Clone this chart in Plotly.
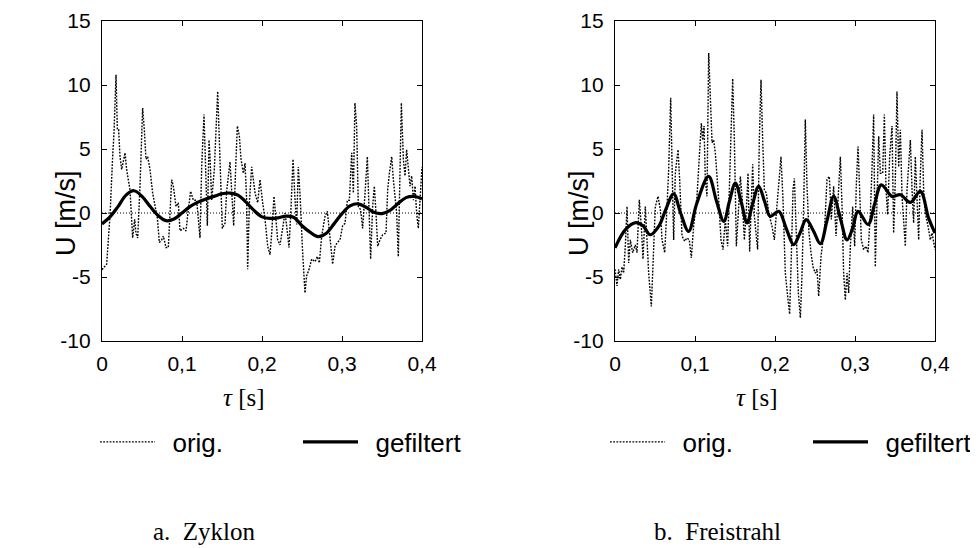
import plotly.graph_objects as go

# ---------------- data ----------------
tau_orig_a = [0.0000, 0.0058, 0.0079, 0.0100, 0.0133, 0.0150, 0.0175, 0.0192, 0.0208, 0.0225,
              0.0246, 0.0267, 0.0288, 0.0308, 0.0350, 0.0383, 0.0408, 0.0425, 0.0446, 0.0475,
              0.0508, 0.0529, 0.0550, 0.0571, 0.0600, 0.0633, 0.0663, 0.0692, 0.0717, 0.0746,
              0.0767, 0.0800, 0.0829, 0.0850, 0.0871, 0.0892, 0.0925, 0.0954, 0.0975, 0.1017,
              0.1050, 0.1079, 0.1108, 0.1142, 0.1183, 0.1225, 0.1246, 0.1275, 0.1300, 0.1317,
              0.1338, 0.1350, 0.1371, 0.1404, 0.1446, 0.1475, 0.1504, 0.1538, 0.1558, 0.1600,
              0.1621, 0.1646, 0.1671, 0.1692, 0.1717, 0.1738, 0.1767, 0.1788, 0.1808, 0.1821,
              0.1842, 0.1871, 0.1892, 0.1913, 0.1946, 0.1975, 0.2004, 0.2038, 0.2071, 0.2100,
              0.2121, 0.2150, 0.2171, 0.2196, 0.2225, 0.2254, 0.2288, 0.2308, 0.2338, 0.2363,
              0.2388, 0.2413, 0.2433, 0.2454, 0.2479, 0.2504, 0.2537, 0.2558, 0.2588, 0.2621,
              0.2663, 0.2692, 0.2717, 0.2746, 0.2788, 0.2817, 0.2842, 0.2883, 0.2913, 0.2942,
              0.2975, 0.3008, 0.3038, 0.3067, 0.3092, 0.3121, 0.3142, 0.3162, 0.3183, 0.3204,
              0.3233, 0.3258, 0.3288, 0.3317, 0.3338, 0.3358, 0.3383, 0.3404, 0.3425, 0.3446,
              0.3475, 0.3508, 0.3550, 0.3571, 0.3592, 0.3621, 0.3642, 0.3663, 0.3683, 0.3704,
              0.3725, 0.3742, 0.3767, 0.3788, 0.3808, 0.3829, 0.3850, 0.3871, 0.3892, 0.3913,
              0.3933, 0.3954, 0.3975, 0.4000]
u_orig_a = [-4.43, -4.0, -2.1, -0.26, 4.4, 6.25, 10.8, 6.5, 6.5, 4.4,
            3.4, 4.2, 4.7, 3.4, 1.8, -1.95, -0.5, -1.6, -1.95, 2.1,
            8.2, 6.5, 4.2, 4.4, 3.4, 1.56, 0.65, -0.4, -2.3, -2.1,
            -1.8, -2.7, -2.7, 0.26, 2.6, 2.1, 0.5, 0.8, -1.4, -1.2,
            -1.4, 0.26, 1.7, 1.0, 1.0, -1.95, 3.6, 7.7, 3.0, -1.0,
            5.7, 4.4, 1.0, 3.4, 9.5, 4.2, -1.2, -0.8, 1.7, 4.0,
            1.56, -1.0, 3.6, 6.8, 6.0, 4.2, 3.1, 3.9, 1.0, -4.4,
            0.8, 3.6, 2.6, 1.56, 0.8, 2.6, 1.0, -0.5, -2.6, -3.25,
            -1.6, 1.3, -0.26, -2.1, -2.5, -1.3, 0.0, -1.0, -2.7, 0.5,
            4.2, 1.0, -0.9, 3.6, 1.0, -2.6, -6.25, -4.9, -4.4, -3.6,
            -3.8, -3.4, -3.9, -1.8, -0.26, 0.13, -1.56, -4.0, -2.6, -2.3,
            -2.1, -1.0, -0.8, 1.0, 1.0, 4.7, 1.56, 8.6, 6.8, 0.5,
            0.26, -1.2, 1.56, 4.4, 0.26, -3.6, 0.5, 2.1, 0.0, -2.6,
            -2.1, -1.7, -1.56, 1.8, 3.1, 4.4, 2.6, 1.0, 0.0, -3.4,
            4.2, 8.6, 4.2, 2.9, 4.95, 3.4, 2.1, 2.9, 1.0, 2.1,
            0.0, -1.2, 1.0, 3.6]

tau_filt_a = [0.00, 0.01, 0.02, 0.03, 0.04, 0.05, 0.06, 0.07, 0.08, 0.09,
              0.10, 0.11, 0.12, 0.13, 0.14, 0.15, 0.16, 0.17, 0.18, 0.19,
              0.20, 0.21, 0.22, 0.23, 0.24, 0.25, 0.26, 0.27, 0.28, 0.29,
              0.30, 0.31, 0.32, 0.33, 0.34, 0.35, 0.36, 0.37, 0.38, 0.39, 0.40]
u_filt_a = [-0.85, -0.3, 0.5, 1.4, 1.74, 1.3, 0.52, -0.2, -0.6, -0.47,
            0.0, 0.5, 0.85, 1.1, 1.3, 1.5, 1.56, 1.4, 0.85, 0.2,
            -0.3, -0.42, -0.38, -0.25, -0.35, -1.0, -1.5, -1.85, -1.6, -0.85,
            -0.05, 0.55, 0.72, 0.45, 0.05, -0.05, 0.2, 0.75, 1.2, 1.3, 1.12]

tau_orig_b = [0.0000, 0.0025, 0.0046, 0.0067, 0.0088, 0.0108, 0.0129, 0.0150, 0.0171, 0.0192,
              0.0221, 0.0254, 0.0275, 0.0304, 0.0329, 0.0350, 0.0379, 0.0400, 0.0421, 0.0454,
              0.0483, 0.0504, 0.0538, 0.0567, 0.0588, 0.0621, 0.0650, 0.0671, 0.0696, 0.0713,
              0.0733, 0.0754, 0.0788, 0.0808, 0.0838, 0.0871, 0.0900, 0.0929, 0.0954, 0.0983,
              0.1025, 0.1054, 0.1079, 0.1096, 0.1113, 0.1129, 0.1150, 0.1171, 0.1192, 0.1213,
              0.1233, 0.1254, 0.1296, 0.1325, 0.1350, 0.1379, 0.1408, 0.1442, 0.1471, 0.1492,
              0.1517, 0.1546, 0.1567, 0.1588, 0.1617, 0.1642, 0.1663, 0.1683, 0.1704, 0.1721,
              0.1742, 0.1763, 0.1783, 0.1804, 0.1825, 0.1846, 0.1867, 0.1892, 0.1921, 0.1963,
              0.1992, 0.2017, 0.2046, 0.2075, 0.2100, 0.2129, 0.2158, 0.2183, 0.2204, 0.2225,
              0.2242, 0.2267, 0.2292, 0.2317, 0.2338, 0.2358, 0.2379, 0.2400, 0.2425, 0.2450,
              0.2475, 0.2504, 0.2525, 0.2546, 0.2575, 0.2621, 0.2650, 0.2679, 0.2704, 0.2733,
              0.2763, 0.2788, 0.2817, 0.2838, 0.2858, 0.2879, 0.2900, 0.2921, 0.2942, 0.2971,
              0.2996, 0.3017, 0.3038, 0.3058, 0.3079, 0.3108, 0.3138, 0.3163, 0.3192, 0.3213,
              0.3233, 0.3254, 0.3275, 0.3296, 0.3317, 0.3346, 0.3367, 0.3388, 0.3408, 0.3433,
              0.3463, 0.3483, 0.3504, 0.3525, 0.3546, 0.3567, 0.3588, 0.3608, 0.3629, 0.3650,
              0.3671, 0.3692, 0.3713, 0.3733, 0.3754, 0.3775, 0.3796, 0.3817, 0.3838, 0.3858,
              0.3879, 0.3913, 0.3942, 0.3963, 0.4000]
u_orig_b = [-4.4, -5.7, -4.4, -5.2, -4.2, -4.7, -2.6, 0.5, -3.9, -2.1,
            -3.1, -2.5, -3.1, 1.04, -1.04, -3.6, 0.5, -2.1, -4.7, -7.3,
            -3.4, 0.5, 1.3, 0.26, -2.1, -3.1, 0.5, 3.4, 9.0, 3.1,
            -2.1, 3.1, 4.95, 2.6, -1.8, -2.2, -1.95, -2.1, -3.5, -1.04,
            1.3, 4.4, 7.0, 5.7, 6.8, 2.6, 1.3, 12.5, 8.3, 5.5,
            5.7, 4.7, 1.04, -2.1, -2.86, -0.5, -2.6, 3.6, 10.5, 5.7,
            -2.6, 0.5, 2.86, 1.3, -2.1, 0.26, 3.1, -3.0, 1.8, 3.8,
            -0.26, -1.56, -2.86, 5.7, 10.4, 5.7, 1.8, 1.56, 0.0, -1.04,
            -2.1, 0.0, 2.1, 4.4, 1.04, -4.7, -6.5, -7.9, -3.4, 1.8,
            2.7, -2.1, -6.25, -8.2, -4.7, 0.5, 7.3, 2.1, -1.56, -3.1,
            -4.2, -4.7, -4.4, -6.5, -3.4, -1.04, 2.6, 2.86, -0.5, 2.1,
            -1.8, 1.04, 4.4, 0.5, -4.7, -6.8, -4.7, -6.25, -2.6, 0.5,
            -2.6, 2.3, 5.2, 1.8, -2.1, -2.86, -2.6, -3.1, 0.0, 3.6,
            7.7, -4.2, 0.0, 6.0, 3.1, 3.1, 7.7, 1.8, -0.13, 4.4,
            6.8, -1.56, 2.6, 9.5, 3.6, 6.5, 1.3, -1.04, -2.6, 1.8,
            3.6, 5.7, 1.8, -0.78, 4.4, 0.5, -2.1, 3.1, 6.5, 1.8,
            0.0, -1.04, -2.1, -1.56, -2.86]

tau_filt_b = [0.000, 0.013, 0.026, 0.035, 0.044, 0.055, 0.063, 0.0733, 0.082, 0.092,
              0.102, 0.117, 0.127, 0.136, 0.143, 0.1504, 0.158, 0.165, 0.172, 0.1796,
              0.187, 0.194, 0.2046, 0.214, 0.2233, 0.231, 0.239, 0.248, 0.2567, 0.265,
              0.2733, 0.282, 0.290, 0.297, 0.3038, 0.3163, 0.3245, 0.3329, 0.3463, 0.3567,
              0.3692, 0.3817, 0.392, 0.400]
u_filt_b = [-2.73, -1.3, -0.75, -1.0, -1.7, -1.0, 0.2, 1.5, 0.0, -1.43,
            0.7, 2.86, 0.9, -0.65, 0.9, 2.34, 0.8, -0.78, 0.7, 2.08,
            0.9, -0.26, 0.13, -1.2, -2.47, -1.6, -0.52, -1.4, -2.4, -0.6,
            1.3, -0.5, -2.1, -1.2, 0.13, -0.9, 0.7, 2.2, 1.3, 1.43,
            0.83, 1.7, -0.4, -1.56]

x_tickvals = [0, 0.1, 0.2, 0.3, 0.4]
x_ticktext = ["0", "0,1", "0,2", "0,3", "0,4"]
y_tickvals = [-10, -5, 0, 5, 10, 15]
y_ticktext = ["-10", "-5", "0", "5", "10", "15"]
series_names = ["orig.", "gefiltert"]
captions = ["a. Zyklon", "b. Freistrahl"]
x_title = "<i>τ</i> [s]"
y_title = "U [m/s]"

# ---------------- figure ----------------
# the page body has an 8px margin; lay out in page pixels and convert
OFF = 8
W, H = 978 - OFF, 548 - OFF
SANS = "Liberation Sans, Arial, sans-serif"
SERIF = "Liberation Serif, Times New Roman, serif"


def fx(xp):
    return (xp - OFF) / W


def fy(yp):
    return 1 - (yp - OFF) / H


fig = go.Figure()

panels = [
    ("x", "y", "legend", tau_orig_a, u_orig_a, tau_filt_a, u_filt_a),
    ("x2", "y2", "legend2", tau_orig_b, u_orig_b, tau_filt_b, u_filt_b),
]
gap = "&nbsp;\u2009"
for xa, ya, lg, to, uo, tf, uf in panels:
    fig.add_trace(go.Scatter(x=to, y=uo, xaxis=xa, yaxis=ya, mode="lines", name=gap + series_names[0],
                             legend=lg, line=dict(color="black", width=1.4, dash="1.8px,1.4px")))
    fig.add_trace(go.Scatter(x=tf, y=uf, xaxis=xa, yaxis=ya, mode="lines", name=gap + series_names[1],
                             legend=lg, line=dict(color="black", width=3.2, shape="spline", smoothing=1.0)))

ydom = [fy(341), fy(21)]
xdoms = [[fx(102), fx(422)], [fx(615), fx(935)]]

axis_common = dict(showline=True, linecolor="black", linewidth=1.4, mirror="ticks",
                   ticks="inside", ticklen=5, tickwidth=1, tickcolor="black",
                   showgrid=False, zeroline=False, automargin=False,
                   tickfont=dict(family=SANS, size=21, color="black"))

layout = dict(
    width=W, height=H, margin=dict(l=0, r=0, t=0, b=0, autoexpand=False),
    paper_bgcolor="white", plot_bgcolor="white",
    font=dict(family=SANS, color="black"),
    showlegend=True,
)
for i, (xa, ya) in enumerate([("xaxis", "yaxis"), ("xaxis2", "yaxis2")]):
    anchor_x = "y" if i == 0 else "y2"
    anchor_y = "x" if i == 0 else "x2"
    layout[xa] = dict(axis_common, domain=xdoms[i], anchor=anchor_x, range=[0, 0.4],
                      tickvals=x_tickvals, ticktext=x_ticktext, ticklabelstandoff=4)
    layout[ya] = dict(axis_common, domain=ydom, anchor=anchor_y, range=[-10, 15],
                      tickvals=y_tickvals, ticktext=y_ticktext, ticklabelstandoff=6)

leg_common = dict(orientation="h", yanchor="middle", xanchor="left",
                  font=dict(family=SANS, size=26, color="black"),
                  bgcolor="rgba(0,0,0,0)", itemwidth=55, entrywidth=133,
                  traceorder="normal", itemclick=False)
layout["legend"] = dict(leg_common, x=fx(95), y=fy(442))
layout["legend2"] = dict(leg_common, x=fx(605), y=fy(442))
fig.update_layout(**layout)

# dotted zero reference line in each panel
for xa, ya in [("x", "y"), ("x2", "y2")]:
    fig.add_shape(type="line", xref=xa, yref=ya, x0=0, x1=0.4, y0=0, y1=0,
                  line=dict(color="black", width=1, dash="1px,2px"), layer="below")

annotations = []
plot_left = [102, 615]
for i in range(2):
    xl = plot_left[i]
    annotations.append(dict(text=x_title, x=fx(xl + 141.5), y=fy(397), xref="paper", yref="paper",
                            showarrow=False, xanchor="center", yanchor="middle",
                            font=dict(family=SERIF, size=25, color="black")))
    annotations.append(dict(text=y_title, x=fx(xl - 36), y=fy(213), xref="paper", yref="paper",
                            showarrow=False, xanchor="center", yanchor="middle", textangle=-90,
                            font=dict(family=SANS, size=27, color="black")))
    annotations.append(dict(text=captions[i].replace(". ", ".&nbsp; ", 1), x=fx(xl + 102), y=fy(531),
                            xref="paper", yref="paper",
                            showarrow=False, xanchor="center", yanchor="middle",
                            font=dict(family=SERIF, size=25, color="black")))
fig.update_layout(annotations=annotations)

fig.write_html("out.html")
